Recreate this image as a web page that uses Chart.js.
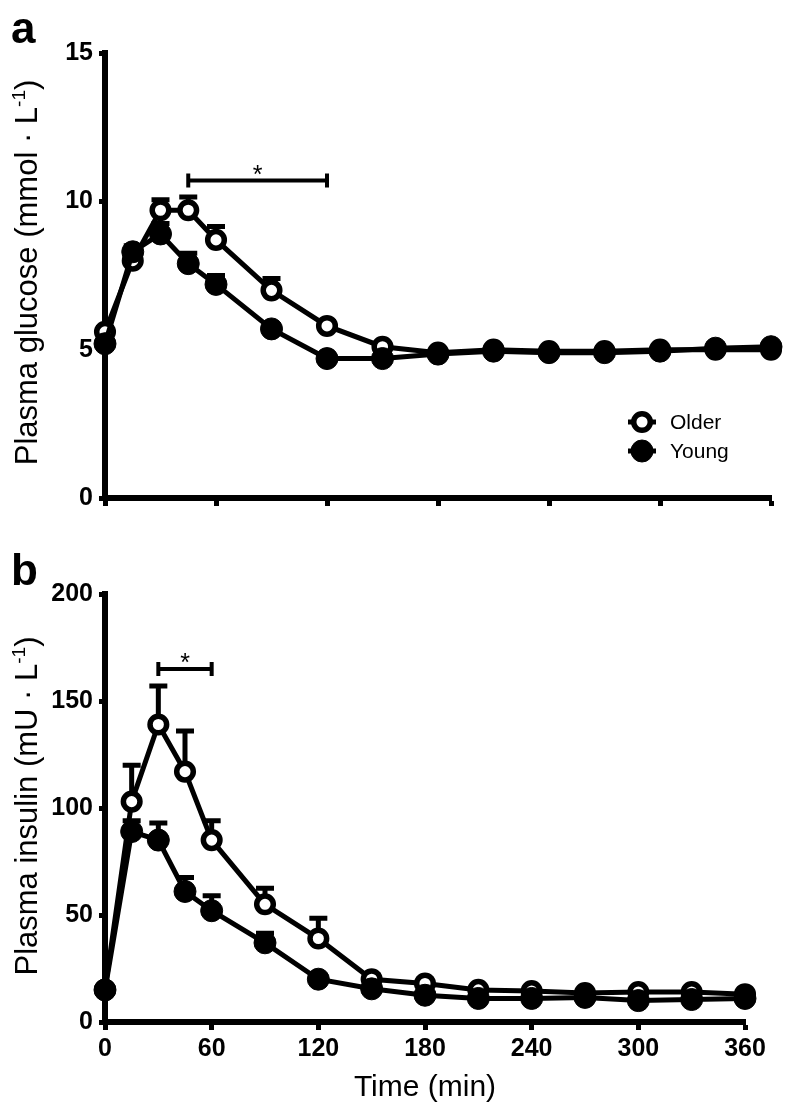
<!DOCTYPE html>
<html>
<head>
<meta charset="utf-8">
<script src="https://cdn.jsdelivr.net/npm/chart.js@4.4.1/dist/chart.umd.min.js"></script>
<style>
  body { margin: 0; background: #fff; }
  #wrap { position: relative; width: 786px; height: 1105px; }
  canvas { position: absolute; left: 0; }
</style>
</head>
<body>
<div id="wrap">
  <canvas id="chart-glucose" width="786" height="540" style="top:0"></canvas>
  <canvas id="chart-insulin" width="786" height="565" style="top:540px"></canvas>
</div>
<script>
// sampling times (min)
const times = [0, 15, 30, 45, 60, 90, 120, 150, 180, 210, 240, 270, 300, 330, 360];

// plasma glucose (mmol/L), mean and SEM
const glucoseOlder    = [5.6, 8.0, 9.7, 9.7, 8.7, 7.0, 5.8, 5.1, 4.9, 5.0, 4.95, 4.95, 5.0, 5.0, 5.0];
const glucoseOlderSem = [0.15, 0.2, 0.35, 0.45, 0.45, 0.4, 0.15, 0.1, 0.1, 0.1, 0.1, 0.1, 0.1, 0.1, 0.1];
const glucoseYoung    = [5.2, 8.3, 8.9, 7.9, 7.2, 5.7, 4.7, 4.7, 4.85, 4.95, 4.9, 4.9, 4.95, 5.05, 5.1];
const glucoseYoungSem = [0.1, 0.2, 0.35, 0.35, 0.3, 0.15, 0.1, 0.1, 0.1, 0.1, 0.1, 0.1, 0.1, 0.15, 0.1];

// plasma insulin (mU/L), mean and SEM
const insulinOlder    = [15, 103, 139, 117, 85, 55, 39, 20, 18, 15, 14.5, 13.5, 14, 14, 13];
const insulinOlderSem = [2, 17, 18, 19, 9, 7.5, 9.5, 2, 2, 1.5, 1.5, 1.5, 1.5, 1.5, 1.5];
const insulinYoung    = [15, 89, 85, 61, 52, 37, 20, 15.5, 12.5, 11, 11, 11.5, 10, 10.5, 11];
const insulinYoungSem = [2, 5, 8, 6.5, 7, 4.5, 2, 1.5, 1.5, 1, 1, 1, 1, 1, 1];

// significance brackets: [from, to] in min, at height y
const glucoseSig = { from: 45, to: 120, y: 10.7, label: '*' };
const insulinSig = { from: 30, to: 60, y: 165, label: '*' };

const FONT = "'Liberation Sans', Arial, Helvetica, sans-serif";

function toPoints(values) {
    return values.map((v, i) => ({ x: times[i], y: v }));
}

// error bars (upper SEM only) drawn under the markers
const errorBarPlugin = {
    id: 'errorBars',
    beforeDatasetsDraw(chart) {
        const ctx = chart.ctx;
        const yScale = chart.scales.y;
        chart.data.datasets.forEach((ds, di) => {
            if (!ds.sem) return;
            const meta = chart.getDatasetMeta(di);
            ctx.save();
            ctx.strokeStyle = '#000';
            ctx.lineWidth = 5;
            meta.data.forEach((pt, i) => {
                const yTop = yScale.getPixelForValue(ds.data[i].y + ds.sem[i]);
                ctx.beginPath();
                ctx.moveTo(pt.x, pt.y);
                ctx.lineTo(pt.x, yTop);
                ctx.moveTo(pt.x - 9, yTop);
                ctx.lineTo(pt.x + 9, yTop);
                ctx.stroke();
            });
            ctx.restore();
        });
    }
};

// bracket with asterisk
const sigPlugin = {
    id: 'sigBracket',
    afterDatasetsDraw(chart, args, opts) {
        if (!opts || opts.from === undefined) return;
        const ctx = chart.ctx;
        const x1 = chart.scales.x.getPixelForValue(opts.from);
        const x2 = chart.scales.x.getPixelForValue(opts.to);
        const y = chart.scales.y.getPixelForValue(opts.y);
        ctx.save();
        ctx.strokeStyle = '#000';
        ctx.lineWidth = 4;
        ctx.beginPath();
        ctx.moveTo(x1, y); ctx.lineTo(x2, y);
        ctx.moveTo(x1, y - 7); ctx.lineTo(x1, y + 7);
        ctx.moveTo(x2, y - 7); ctx.lineTo(x2, y + 7);
        ctx.stroke();
        ctx.fillStyle = '#000';
        ctx.font = '25px ' + FONT;
        ctx.textAlign = 'center';
        ctx.textBaseline = 'alphabetic';
        ctx.fillText(opts.label, (x1 + x2) / 2, y + 2);
        ctx.restore();
    }
};

// rotated y title with a real superscript, plus the panel letter
const titlePlugin = {
    id: 'panelText',
    afterDraw(chart, args, opts) {
        const ctx = chart.ctx;
        ctx.save();
        ctx.fillStyle = '#000';
        ctx.font = 'bold 44px ' + FONT;
        ctx.textBaseline = 'alphabetic';
        ctx.textAlign = 'left';
        ctx.fillText(opts.letter, 11, opts.letterY);

        const fs = 31;
        const mainFont = fs + 'px ' + FONT;
        const supFont = Math.round(fs * 0.6) + 'px ' + FONT;
        ctx.font = mainFont;
        const w1 = ctx.measureText(opts.main).width;
        const w3 = ctx.measureText(')').width;
        ctx.font = supFont;
        const w2 = ctx.measureText('-1').width;
        const total = w1 + w2 + w3;
        const cy = (chart.chartArea.top + chart.chartArea.bottom) / 2 + opts.shift;
        ctx.translate(37, cy);
        ctx.rotate(-Math.PI / 2);
        let x = -total / 2;
        ctx.font = mainFont;
        ctx.fillText(opts.main, x, 0);
        x += w1;
        ctx.font = supFont;
        ctx.fillText('-1', x, -fs * 0.4);
        x += w2;
        ctx.font = mainFont;
        ctx.fillText(')', x, 0);
        ctx.restore();
    }
};

// legend inside panel a
const legendPlugin = {
    id: 'innerLegend',
    afterDraw(chart, args, opts) {
        if (!opts || !opts.show) return;
        const ctx = chart.ctx;
        const items = chart.data.datasets.slice().reverse();
        ctx.save();
        items.forEach((ds, i) => {
            const cx = opts.x, cy = opts.y + i * 29;
            ctx.strokeStyle = '#000';
            ctx.lineWidth = 5;
            ctx.beginPath();
            ctx.moveTo(cx - 14, cy); ctx.lineTo(cx + 14, cy);
            ctx.stroke();
            ctx.beginPath();
            ctx.arc(cx, cy, ds.pointRadius, 0, Math.PI * 2);
            ctx.fillStyle = ds.pointBackgroundColor;
            ctx.fill();
            ctx.lineWidth = ds.pointBorderWidth;
            ctx.stroke();
            ctx.fillStyle = '#000';
            ctx.font = '21px ' + FONT;
            ctx.textBaseline = 'middle';
            ctx.textAlign = 'left';
            ctx.fillText(ds.label, cx + 28, cy + 1);
        });
        ctx.restore();
    }
};

function makeDatasets(older, olderSem, young, youngSem) {
    // young first so it is drawn on top
    return [{
        label: 'Young',
        data: toPoints(young),
        sem: youngSem,
        borderColor: '#000',
        borderWidth: 5,
        pointRadius: 11,
        pointBackgroundColor: '#000',
        pointBorderColor: '#000',
        pointBorderWidth: 1,
        clip: false
    }, {
        label: 'Older',
        data: toPoints(older),
        sem: olderSem,
        borderColor: '#000',
        borderWidth: 5,
        pointRadius: 8.3,
        pointBackgroundColor: '#fff',
        pointBorderColor: '#000',
        pointBorderWidth: 5.5,
        clip: false
    }];
}

function makeChart(canvasId, cfg) {
    const ctx = document.getElementById(canvasId).getContext('2d');
    return new Chart(ctx, {
        type: 'line',
        data: { datasets: cfg.datasets },
        options: {
            responsive: false,
            animation: false,
            layout: { padding: { top: cfg.padTop, right: cfg.padRight, left: 0, bottom: 0 } },
            scales: {
                x: {
                    type: 'linear',
                    min: 0,
                    max: 360,
                    ticks: {
                        stepSize: 60,
                        color: '#000',
                        padding: 4,
                        font: { family: FONT, size: 25, weight: 'bold' },
                        callback: cfg.xLabels ? (v => v) : (() => '')
                    },
                    grid: { drawOnChartArea: false, drawTicks: true, tickLength: 8, tickWidth: 5, color: '#000' },
                    border: { display: true, color: '#000', width: 6 },
                    title: {
                        display: !!cfg.xTitle,
                        text: cfg.xTitle || '',
                        color: '#000',
                        font: { family: FONT, size: 30, lineHeight: 1 },
                        padding: { top: 0, bottom: 2 }
                    },
                    afterFit(scale) { scale.height = cfg.xHeight; }
                },
                y: {
                    min: 0,
                    max: cfg.yMax,
                    ticks: {
                        stepSize: cfg.yStep,
                        color: '#000',
                        padding: 6,
                        font: { family: FONT, size: 25, weight: 'bold' }
                    },
                    grid: { drawOnChartArea: false, drawTicks: true, tickLength: 6, tickWidth: 5, color: '#000' },
                    border: { display: true, color: '#000', width: 6 },
                    afterFit(scale) { scale.width = 105; }
                }
            },
            plugins: {
                legend: { display: false },
                tooltip: { enabled: false },
                sigBracket: cfg.sig,
                panelText: cfg.text,
                innerLegend: cfg.legend
            }
        },
        plugins: [errorBarPlugin, sigPlugin, titlePlugin, legendPlugin]
    });
}

makeChart('chart-glucose', {
    datasets: makeDatasets(glucoseOlder, glucoseOlderSem, glucoseYoung, glucoseYoungSem),
    padTop: 53, padRight: 15, xHeight: 42,
    xLabels: false,
    yMax: 15, yStep: 5,
    sig: glucoseSig,
    text: { letter: 'a', letterY: 43, main: 'Plasma glucose (mmol \u00b7 L', shift: -3 },
    legend: { show: true, x: 642, y: 422 }
});

makeChart('chart-insulin', {
    datasets: makeDatasets(insulinOlder, insulinOlderSem, insulinYoung, insulinYoungSem),
    padTop: 54, padRight: 41, xHeight: 83,
    xLabels: true,
    xTitle: 'Time (min)',
    yMax: 200, yStep: 50,
    sig: insulinSig,
    text: { letter: 'b', letterY: 45, main: 'Plasma insulin (mU \u00b7 L', shift: -2 },
    legend: { show: false }
});
</script>
</body>
</html>
